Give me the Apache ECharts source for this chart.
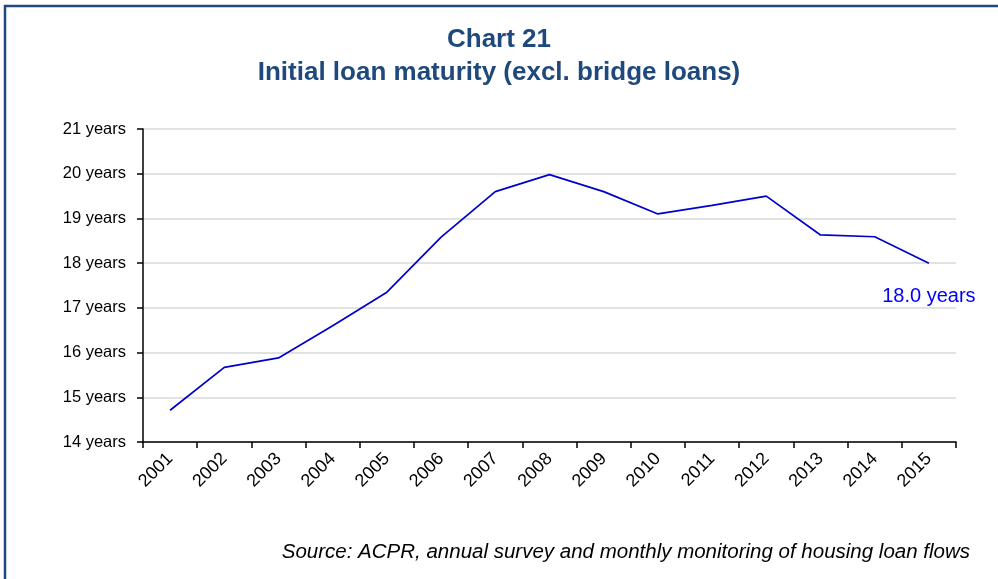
<!DOCTYPE html>
<html>
<head>
<meta charset="utf-8">
<script src="https://cdn.jsdelivr.net/npm/echarts@6/dist/echarts.min.js"></script>
<style>
  html, body { margin: 0; padding: 0; background: #fff; }
  #chart { width: 998px; height: 579px; }
</style>
</head>
<body>
<div id="chart"></div>
<script>
// Average initial maturity of new housing loans, in years
const years = ['2001','2002','2003','2004','2005','2006','2007','2008','2009','2010','2011','2012','2013','2014','2015'];
const maturity = [14.71, 15.67, 15.88, 16.6, 17.35, 18.58, 19.6, 19.98, 19.6, 19.1, 19.29, 19.5, 18.63, 18.59, 18.0];

const titleLines = ['Chart 21', 'Initial loan maturity (excl. bridge loans)'];
const sourceNote = 'Source: ACPR, annual survey and monthly monitoring of housing loan flows';

const navy = '#1F497D';
const font = '"Liberation Sans", Arial, sans-serif';

// Only the latest observation carries a value label
const seriesData = maturity.map((v, i) => {
  if (i === maturity.length - 1) {
    return {
      value: v,
      label: {
        show: true,
        position: 'bottom',
        distance: 23,
        formatter: p => p.value.toFixed(1) + ' years',
        color: '#0000FF',
        fontSize: 20,
        fontFamily: font
      }
    };
  }
  return v;
});

const chart = echarts.init(document.getElementById('chart'), null, { renderer: 'canvas' });
chart.setOption({
  backgroundColor: '#ffffff',
  animation: false,
  title: [
    {
      text: titleLines[0] + '\n' + titleLines[1],
      left: 'center',
      top: 18,
      textStyle: { color: navy, fontSize: 26, fontWeight: 'bold', fontFamily: font, lineHeight: 33 }
    }
  ],
  graphic: [
    {
      type: 'rect',
      shape: { x: 5, y: 6, width: 1200, height: 800 },
      style: { fill: 'none', stroke: navy, lineWidth: 2.5 },
      silent: true
    },
    {
      type: 'text',
      right: 28,
      top: 542,
      style: { text: sourceNote, fill: '#000', font: 'italic 20.5px ' + font }
    }
  ],
  grid: { left: 143, right: 42, top: 129, bottom: 137 },
  xAxis: {
    type: 'category',
    data: years,
    boundaryGap: true,
    axisLine: { lineStyle: { color: '#000', width: 1.5 } },
    axisTick: { show: true, length: 6, lineStyle: { color: '#000', width: 1.5 } },
    axisLabel: { rotate: 45, color: '#000', fontSize: 18, fontFamily: font, margin: 14, interval: 0 },
    splitLine: { show: false }
  },
  yAxis: {
    type: 'value',
    min: 14,
    max: 21,
    interval: 1,
    axisLine: { show: true, lineStyle: { color: '#000', width: 1.5 } },
    axisTick: { show: true, length: 6, lineStyle: { color: '#000', width: 1.5 } },
    axisLabel: { formatter: v => v + ' years', color: '#000', fontSize: 16.5, fontFamily: font, margin: 17 },
    splitLine: { show: true, lineStyle: { color: '#D9D9D9', width: 1.5 } }
  },
  series: [
    {
      type: 'line',
      data: seriesData,
      symbol: 'circle',
      symbolSize: 1,
      showSymbol: true,
      lineStyle: { color: '#0000CC', width: 1.7 },
      itemStyle: { color: 'rgba(0,0,204,0)', borderWidth: 0 }
    }
  ]
});
</script>
</body>
</html>
